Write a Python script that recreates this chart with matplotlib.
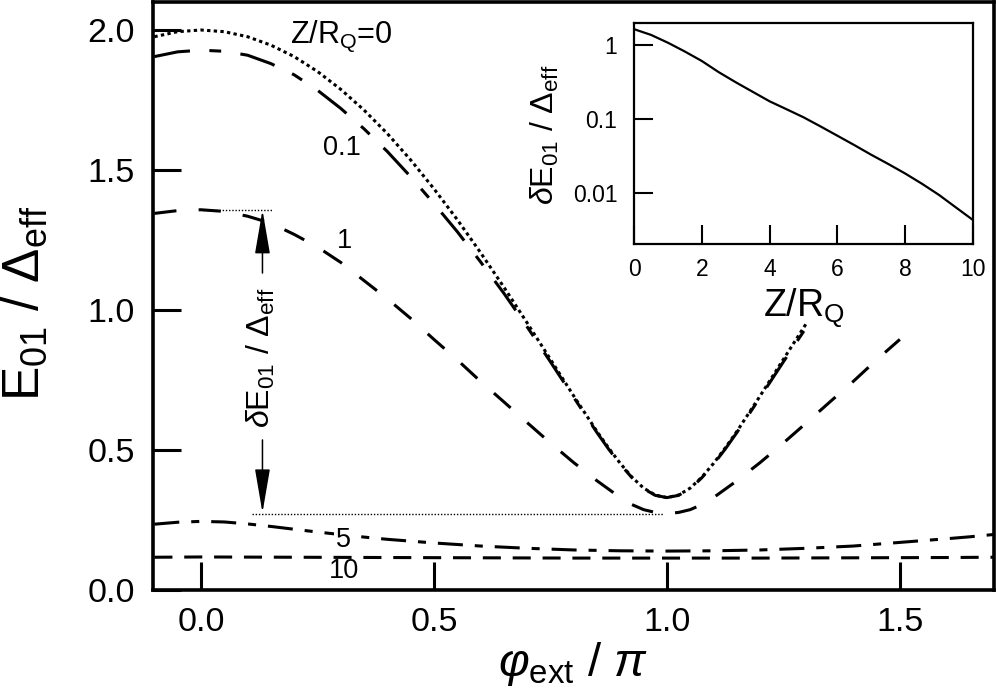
import numpy as np
import matplotlib
matplotlib.use('Agg')
import matplotlib.pyplot as plt
from matplotlib.ticker import FixedLocator, NullLocator

plt.rcParams['font.family'] = ['Liberation Sans', 'DejaVu Sans']
plt.rcParams['mathtext.fontset'] = 'custom'
plt.rcParams['mathtext.rm'] = 'Liberation Sans'
plt.rcParams['mathtext.it'] = 'Liberation Sans:italic'
plt.rcParams['mathtext.bf'] = 'Liberation Sans:bold'
plt.rcParams['lines.scale_dashes'] = False

# ---------------- data ----------------
phi_z0 = [-0.1, -0.05, 0, 0.05, 0.1, 0.15, 0.2, 0.25, 0.3, 0.35, 0.4, 0.45, 0.5, 0.55,
          0.6, 0.65, 0.7, 0.75, 0.8, 0.85, 0.875, 0.9, 0.925, 0.95, 0.975, 1.0, 1.025,
          1.05, 1.075, 1.1, 1.125, 1.15, 1.2, 1.25, 1.3]
E_z0 = [1.976, 1.994, 2.000, 1.994, 1.976, 1.946, 1.905, 1.852, 1.788, 1.714, 1.630,
        1.536, 1.433, 1.323, 1.205, 1.082, 0.954, 0.824, 0.693, 0.566, 0.507, 0.452,
        0.403, 0.364, 0.339, 0.330, 0.339, 0.364, 0.403, 0.452, 0.507, 0.566, 0.693,
        0.824, 0.954]

phi_z01 = phi_z0
E_z01 = [1.905, 1.922, 1.928, 1.924, 1.910, 1.880, 1.840, 1.785, 1.720, 1.647, 1.566,
         1.476, 1.380, 1.280, 1.172, 1.060, 0.940, 0.815, 0.688, 0.562, 0.503, 0.449,
         0.401, 0.362, 0.338, 0.330, 0.338, 0.362, 0.401, 0.449, 0.503, 0.562, 0.688,
         0.815, 0.940]

phi_z1 = [-0.1, -0.05, 0, 0.05, 0.1, 0.15, 0.2, 0.25, 0.3, 0.35, 0.4, 0.45, 0.5, 0.55,
          0.6, 0.65, 0.7, 0.75, 0.8, 0.85, 0.9, 0.925, 0.95, 0.975, 1.0, 1.025, 1.05,
          1.075, 1.1, 1.15, 1.2, 1.25, 1.3, 1.35, 1.4, 1.45, 1.5]
E_z1 = [1.345, 1.355, 1.358, 1.352, 1.335, 1.310, 1.270, 1.225, 1.170, 1.105, 1.040,
        0.970, 0.895, 0.822, 0.745, 0.672, 0.598, 0.525, 0.455, 0.390, 0.330, 0.305,
        0.287, 0.277, 0.273, 0.277, 0.287, 0.305, 0.330, 0.390, 0.455, 0.525, 0.598,
        0.672, 0.745, 0.822, 0.895]

phi_z5 = [-0.1, -0.05, 0, 0.05, 0.1, 0.15, 0.2, 0.25, 0.3, 0.35, 0.4, 0.5, 0.6, 0.7,
          0.8, 0.9, 1.0, 1.1, 1.2, 1.3, 1.4, 1.5, 1.6, 1.65, 1.7]
E_z5 = [0.235, 0.242, 0.245, 0.243, 0.236, 0.227, 0.217, 0.207, 0.198, 0.189, 0.181,
        0.168, 0.157, 0.149, 0.143, 0.140, 0.139, 0.140, 0.143, 0.149, 0.157, 0.170,
        0.183, 0.190, 0.198]

phi_z10 = [-0.1, 0, 0.2, 0.4, 0.6, 0.8, 1.0, 1.2, 1.4, 1.6, 1.7]
E_z10 = [0.117, 0.118, 0.117, 0.116, 0.115, 0.114, 0.114, 0.114, 0.115, 0.116, 0.117]

# inset: splitting delta E01 vs Z/R_Q
Z_inset = [0, 0.5, 1, 1.5, 2, 2.5, 3, 3.5, 4, 4.5, 5, 5.5, 6, 6.5, 7, 7.5, 8, 8.5, 9,
           9.5, 10]
dE_inset = [1.65, 1.38, 1.08, 0.82, 0.61, 0.43, 0.314, 0.233, 0.173, 0.135, 0.105,
            0.079, 0.059, 0.044, 0.0325, 0.0244, 0.0181, 0.0131, 0.00925, 0.00625,
            0.00423]

# annotation levels
E_top_level = 1.357
E_bottom_level = 0.273

x_ticks = [0.0, 0.5, 1.0, 1.5]
x_ticklabels = ['0.0', '0.5', '1.0', '1.5']
y_ticks = [0.0, 0.5, 1.0, 1.5, 2.0]
y_ticklabels = ['0.0', '0.5', '1.0', '1.5', '2.0']
in_x_ticks = [0, 2, 4, 6, 8, 10]
in_x_ticklabels = ['0', '2', '4', '6', '8', '10']
in_y_ticks = [1, 0.1, 0.01]
in_y_ticklabels = ['1', '0.1', '0.01']

# ---------------- figure ----------------
fig = plt.figure(figsize=(9.96, 6.96), dpi=100)
W, H = 996.0, 696.0
ax = fig.add_axes([152.5 / W, 1 - 590 / H, (994 - 152.5) / W, 588 / H])

lw = 2.2
ax.plot(phi_z0, E_z0, color='k', lw=lw, linestyle=(0, (2.4, 2.4)))
ax.plot(phi_z01, E_z01, color='k', lw=lw, linestyle=(0, (26, 14, 8.5, 14)))
ax.plot(phi_z1, E_z1, color='k', lw=lw, linestyle=(0, (16, 16)))
ax.plot(phi_z5, E_z5, color='k', lw=lw, linestyle=(0, (18, 8.6, 5.8, 8.6)))
ax.plot(phi_z10, E_z10, color='k', lw=lw, linestyle=(0, (13, 8.5)))

# dotted reference levels
ax.plot([0.004, 0.152], [E_top_level, E_top_level], color='k', lw=1.0,
        linestyle=(0, (1, 1.3)))
ax.plot([0.109, 0.994], [E_bottom_level, E_bottom_level], color='k', lw=1.0,
        linestyle=(0, (1, 1.3)))

# arrows + label
arrow_x = 0.132
ap = dict(arrowstyle='-|>,head_length=1.37,head_width=0.235', mutation_scale=20,
          lw=1.1, color='k', shrinkA=0, shrinkB=0)
ax.annotate('', xy=(arrow_x, E_top_level), xytext=(arrow_x, 1.132), arrowprops=ap)
ax.annotate('', xy=(arrow_x, E_bottom_level + 0.003), xytext=(arrow_x, 0.536),
            arrowprops=ap)
ax.text(0.129, 0.829, r'$\delta$E$_{01}$ / $\Delta_\mathrm{eff}$', rotation=90,
        ha='center', va='center', fontsize=23)

# curve labels
ax.text(0.191, 1.954, r'Z/R$_\mathrm{Q}$=0', ha='left', va='baseline', fontsize=22)
ax.text(0.3015, 1.554, '0.1', ha='center', va='baseline', fontsize=19.5)
ax.text(0.307, 1.221, '1', ha='center', va='baseline', fontsize=19.5)
ax.text(0.306, 0.154, '5', ha='center', va='baseline', fontsize=19.5,
        bbox=dict(facecolor='white', edgecolor='none', pad=1.5))
ax.text(0.307, 0.043, '10', ha='center', va='baseline', fontsize=19.5)

ax.set_xlim(-0.104, 1.702)
ax.set_ylim(0, 2.1)
ax.xaxis.set_major_locator(FixedLocator(x_ticks))
ax.set_xticklabels(x_ticklabels)
ax.yaxis.set_major_locator(FixedLocator(y_ticks))
ax.set_yticklabels(y_ticklabels)
ax.tick_params(direction='in', length=20, width=2.2, labelsize=24.5, pad=12.5,
               top=False, right=False, colors='k')
for s in ax.spines.values():
    s.set_linewidth(2.6)

fig.text(25 / W, 1 - 303 / H, r'E$_{01}$ / $\Delta_\mathrm{eff}$', rotation=90,
         ha='center', va='center', fontsize=37)
fig.text(573 / W, 1 - 676 / H, r'$\varphi_\mathrm{ext}$ / $\pi$', ha='center',
         va='baseline', fontsize=34)

# ---------------- inset ----------------
axi = fig.add_axes([634 / W, 1 - 244 / H, 339 / W, 221 / H])
axi.set_facecolor('white')
axi.plot(Z_inset, dE_inset, color='k', lw=1.6)
axi.set_yscale('log')
axi.set_xlim(0, 10)
axi.set_ylim(0.002, 2.0)
axi.xaxis.set_major_locator(FixedLocator(in_x_ticks))
axi.set_xticklabels(in_x_ticklabels)
axi.yaxis.set_major_locator(FixedLocator(in_y_ticks))
axi.set_yticklabels(in_y_ticklabels)
axi.yaxis.set_minor_locator(NullLocator())
axi.xaxis.set_minor_locator(NullLocator())
axi.tick_params(direction='in', length=13.5, width=1.5, labelsize=16.5, pad=10,
                top=False, right=False)
axi.tick_params(axis='y', pad=12)
for s in axi.spines.values():
    s.set_linewidth(1.6)

fig.text(803.5 / W, 1 - 317 / H, r'Z/R$_\mathrm{Q}$', ha='center', va='baseline',
         fontsize=27)
fig.text(545 / W, 1 - 135 / H, r'$\delta$E$_{01}$ / $\Delta_\mathrm{eff}$',
         rotation=90, ha='center', va='center', fontsize=23)

fig.savefig('out.png', dpi=100)
